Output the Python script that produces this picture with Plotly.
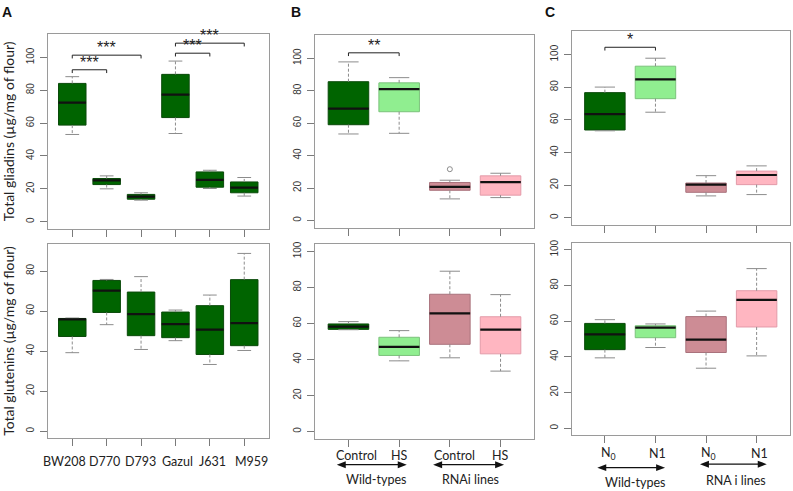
import plotly.graph_objects as go

# ---- data ----
# panel A: cultivars
cultivars = ['BW208', 'D770', 'D793', 'Gazul', 'J631', 'M959']
# [lower whisker, q1, median, q3, upper whisker]
gliadins_A = [
    [53.1, 58.8, 72.5, 84.2, 88.3],
    [20.0, 22.6, 25.1, 26.3, 27.9],
    [13.1, 13.7, 15.2, 16.6, 17.6],
    [53.7, 63.4, 77.4, 89.7, 97.8],
    [20.2, 21.0, 25.5, 30.3, 31.3],
    [15.6, 17.6, 20.8, 24.2, 26.9],
]
glutenins_A = [
    [39.2, 47.3, 55.8, 56.3, 56.5],
    [53.2, 59.3, 70.2, 75.3, 75.8],
    [40.8, 47.7, 58.5, 69.5, 77.2],
    [45.2, 46.7, 53.5, 59.5, 60.5],
    [33.3, 38.3, 50.7, 62.7, 68.0],
    [40.3, 42.7, 54.0, 75.7, 88.8],
]
# panel B: heat stress
labels_B = ['Control', 'HS', 'Control', 'HS']
gliadins_B = [
    [53.3, 59.0, 68.9, 85.5, 97.7],
    [53.7, 67.0, 80.9, 84.8, 88.0],
    [13.3, 18.6, 20.7, 23.4, 24.8],
    [14.1, 15.6, 23.6, 27.5, 29.1],
]
outliers_B = [None, None, 31.6, None]
glutenins_B = [
    [56.5, 56.7, 58.2, 59.7, 61.0],
    [39.2, 42.2, 47.0, 52.3, 56.0],
    [40.9, 48.4, 65.6, 76.2, 89.0],
    [33.5, 43.1, 56.5, 63.7, 76.0],
]
# panel C: nitrogen
labels_C = ['N<sub>0</sub>', 'N1', 'N<sub>0</sub>', 'N1']
gliadins_C = [
    [53.3, 53.8, 63.5, 76.7, 80.1],
    [64.7, 73.0, 84.8, 92.9, 97.8],
    [13.4, 15.6, 20.3, 21.3, 25.8],
    [14.2, 20.3, 26.2, 28.6, 31.8],
]
glutenins_C = [
    [39.4, 44.0, 52.6, 58.7, 60.8],
    [45.2, 50.7, 56.3, 57.4, 58.4],
    [33.6, 42.4, 49.6, 62.5, 65.6],
    [40.5, 56.7, 71.9, 77.0, 89.4],
]
groups = ['Wild-types', 'RNAi lines']
groups_C = ['Wild-types', 'RNA i lines']
# significance brackets: (from box, to box, bracket height, stars)
sig_A = [(1, 2, 92.5, '***'), (1, 3, 101.4, '***'), (4, 5, 102.6, '***'), (4, 6, 108.7, '***')]
sig_B = [(1, 2, 103.3, '**')]
sig_C = [(1, 2, 104.5, '*')]

# colours
DG, LG, RB, PK = '#006400', '#90ee90', '#cd8c95', '#ffb6c1'
EDGE = {DG: '#0a4a0a', LG: '#7cc27c', RB: '#a9727c', PK: '#e39aa8'}
colors4 = [DG, LG, RB, PK]

W, H = 793, 491
LABEL_FONT = 'Lato, Open Sans, sans-serif'
TICK_FONT = 'Liberation Sans, Arial, sans-serif'

fig = go.Figure()


def add_boxes(stats, colors, ax, ay, outliers=None):
    for i, (lo, q1, med, q3, hi) in enumerate(stats):
        pos = i + 1
        c = colors[i]
        # dashed whiskers
        fig.add_trace(go.Scatter(x=[pos, pos, None, pos, pos], y=[q3, hi, None, q1, lo], mode='lines',
                                 line=dict(color='#8c8c8c', width=1, dash='3px,2px'),
                                 xaxis=ax, yaxis=ay, hoverinfo='skip', showlegend=False))
        # caps
        fig.add_trace(go.Scatter(x=[pos - 0.2, pos + 0.2, None, pos - 0.2, pos + 0.2], y=[hi, hi, None, lo, lo],
                                 mode='lines', line=dict(color='#8c8c8c', width=1),
                                 xaxis=ax, yaxis=ay, hoverinfo='skip', showlegend=False))
        fig.add_trace(go.Box(x=[pos], q1=[q1], median=[med], q3=[q3], lowerfence=[q1], upperfence=[q3],
                             width=0.8, fillcolor=c, line=dict(color=EDGE[c], width=1), whiskerwidth=0,
                             xaxis=ax, yaxis=ay, hoverinfo='skip', showlegend=False))
        # median
        fig.add_trace(go.Scatter(x=[pos - 0.4, pos + 0.4], y=[med, med], mode='lines',
                                 line=dict(color='#111111', width=2.2),
                                 xaxis=ax, yaxis=ay, hoverinfo='skip', showlegend=False))
        if outliers and outliers[i] is not None:
            fig.add_trace(go.Scatter(x=[pos], y=[outliers[i]], mode='markers',
                                     marker=dict(symbol='circle-open', size=5, color='#8c8c8c', line=dict(width=1)),
                                     xaxis=ax, yaxis=ay, hoverinfo='skip', showlegend=False))


def add_sig(sigs, ax, ay):
    for a, b, h, stars in sigs:
        fig.add_trace(go.Scatter(x=[a, a, b, b], y=[h - 2, h, h, h - 2], mode='lines',
                                 line=dict(color='#222222', width=1),
                                 xaxis=ax, yaxis=ay, hoverinfo='skip', showlegend=False))
        fig.add_annotation(x=(a + b) / 2, y=h + 4.5, xref=ax, yref=ay, text=stars, showarrow=False,
                           xanchor='center', yanchor='middle',
                           font=dict(family=TICK_FONT, size=16, color='#222222'))


add_boxes(gliadins_A, [DG] * 6, 'x', 'y')
add_sig(sig_A, 'x', 'y')
add_boxes(gliadins_B, colors4, 'x2', 'y2', outliers_B)
add_sig(sig_B, 'x2', 'y2')
add_boxes(gliadins_C, colors4, 'x3', 'y3')
add_sig(sig_C, 'x3', 'y3')
add_boxes(glutenins_A, [DG] * 6, 'x4', 'y4')
add_boxes(glutenins_B, colors4, 'x5', 'y5')
add_boxes(glutenins_C, colors4, 'x6', 'y6')


def px_x(a, b):
    return [a / W, b / W]


def px_y(top, bottom):
    return [1 - bottom / H, 1 - top / H]


frame = dict(showline=True, mirror=True, linecolor='#9a9a9a', linewidth=1, showgrid=False, zeroline=False,
             ticks='outside', tickcolor='#7a7a7a', ticklen=7)

xa_dom = px_x(47.5, 269)
xb_dom = px_x(315, 534)
xc_dom = px_x(571.5, 790)

layout_axes = {}
# x axes (labels drawn as annotations below)
for name, dom, rng, n, anchor in [('xaxis', xa_dom, [0.28, 6.72], 6, 'y'),
                                  ('xaxis2', xb_dom, [0.34, 4.66], 4, 'y2'),
                                  ('xaxis3', xc_dom, [0.34, 4.66], 4, 'y3'),
                                  ('xaxis4', xa_dom, [0.28, 6.72], 6, 'y4'),
                                  ('xaxis5', xb_dom, [0.34, 4.66], 4, 'y5'),
                                  ('xaxis6', xc_dom, [0.34, 4.66], 4, 'y6')]:
    layout_axes[name] = dict(frame, domain=dom, range=rng, tickvals=list(range(1, n + 1)),
                             showticklabels=False, anchor=anchor)

ytick = dict(tickangle=-90, ticklabelstandoff=2, tickfont=dict(family=TICK_FONT, size=10, color='#333333'))
ytitle_font = dict(family=LABEL_FONT, size=14, color='#222222')
layout_axes['yaxis'] = dict(frame, **ytick, domain=px_y(31, 227.3), range=[-4.4, 114.4],
                            tickvals=[0, 20, 40, 60, 80, 100], anchor='x',
                            title=dict(text='Total gliadins (µg/mg of flour)', standoff=13, font=ytitle_font))
layout_axes['yaxis2'] = dict(frame, **ytick, domain=px_y(32, 226), range=[-4.4, 114.4],
                             tickvals=[0, 20, 40, 60, 80, 100], anchor='x2')
layout_axes['yaxis3'] = dict(frame, **ytick, domain=px_y(28.3, 223.3), range=[-4.4, 114.4],
                             tickvals=[0, 20, 40, 60, 80, 100], anchor='x3')
layout_axes['yaxis4'] = dict(frame, **ytick, domain=px_y(242.3, 438), range=[-3.6, 93.6],
                             tickvals=[0, 20, 40, 60, 80], anchor='x4',
                             title=dict(text='Total glutenins (µg/mg of flour)', standoff=13, font=ytitle_font))
layout_axes['yaxis5'] = dict(frame, **ytick, domain=px_y(242.7, 438.3), range=[-4, 104],
                             tickvals=[0, 20, 40, 60, 80, 100], anchor='x5')
layout_axes['yaxis6'] = dict(frame, **ytick, domain=px_y(241, 435), range=[-4, 104],
                             tickvals=[0, 20, 40, 60, 80, 100], anchor='x6')

fig.update_layout(width=W, height=H, margin=dict(l=0, r=0, t=0, b=0), plot_bgcolor='white',
                  paper_bgcolor='white', **layout_axes)

# panel letters
for letter, xp in [('A', 7), ('B', 296), ('C', 550)]:
    fig.add_annotation(x=xp / W, y=1 - 9 / H, xref='paper', yref='paper', text=f'<b>{letter}</b>',
                       showarrow=False, xanchor='center', yanchor='middle',
                       font=dict(family=TICK_FONT, size=14, color='#111111'))

lab_font = dict(family=LABEL_FONT, size=12.5, color='#222222')

# cultivar names under panel A
cult_x = [0.77, 1.95, 2.99, 4.06, 5.08, 6.21]
for xv, lab in zip(cult_x, cultivars):
    fig.add_annotation(x=xv, y=1 - 461.5 / H, xref='x4', yref='paper', text=lab, showarrow=False,
                       xanchor='center', yanchor='middle', font=lab_font)

# treatment labels under panels B and C
for ax, labs, shifts, ylab in [('x5', labels_B, [0.15, 0, 0.1, 0], 455),
                               ('x6', labels_C, [0.08, 0.05, 0.05, 0.05], 453)]:
    for i, lab in enumerate(labs):
        fig.add_annotation(x=i + 1 + shifts[i], y=1 - ylab / H, xref=ax, yref='paper', text=lab,
                           showarrow=False, xanchor='center', yanchor='middle', font=lab_font)

# double-headed group arrows (shapes) and group labels below panels B and C
HEAD_W, HEAD_H = 9, 3.5  # pixels
arrows = [('x5', (0.77, 2.15), 464.5, groups[0], 1.55, 479.5),
          ('x5', (2.67, 4.07), 464.5, groups[1], 3.4, 479.5),
          ('x6', (0.85, 2.19), 467.5, groups_C[0], 1.6, 482.5),
          ('x6', (2.88, 4.2), 464, groups_C[1], 3.6, 480)]
for ax, (x0, x1), ya, lab, xl, yl in arrows:
    unit = 50.8  # pixels per category step on panels B and C
    hw = HEAD_W / unit
    yp = 1 - ya / H
    hh = HEAD_H / H
    fig.add_shape(type='line', x0=x0 + hw * 0.5, x1=x1 - hw * 0.5, y0=yp, y1=yp, xref=ax, yref='paper',
                  line=dict(color='#111111', width=1.3))
    for tip, back in [(x0, x0 + hw), (x1, x1 - hw)]:
        fig.add_shape(type='path', xref=ax, yref='paper', line=dict(width=0), fillcolor='#111111',
                      path=f'M {tip} {yp} L {back} {yp + hh} L {back} {yp - hh} Z')
    fig.add_annotation(x=xl, y=1 - yl / H, xref=ax, yref='paper', text=lab, showarrow=False,
                       xanchor='center', yanchor='middle', font=lab_font)

# the page's default body margin would push the figure 8px down and right
fig.write_html('out.html', config={'displayModeBar': False},
               post_script="document.body.style.margin = '0';")
